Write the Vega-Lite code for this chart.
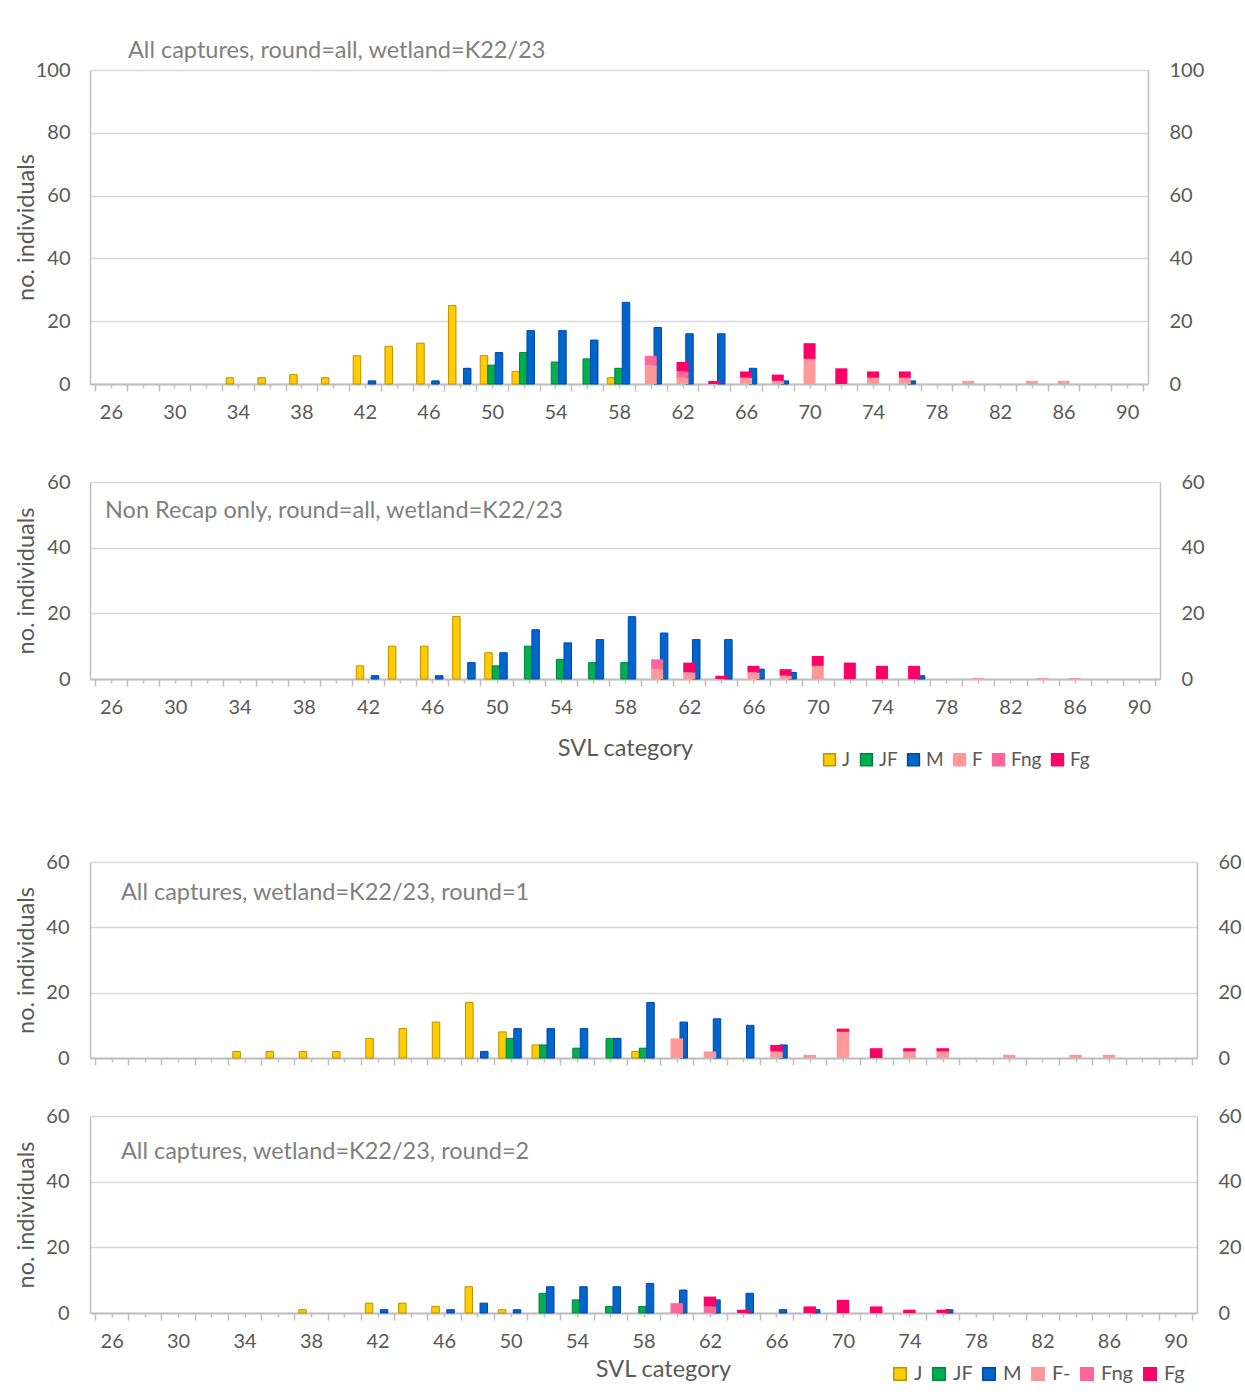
{
"$schema": "https://vega.github.io/schema/vega-lite/v6.json",
"padding": {"left": 13, "top": 38, "right": 0, "bottom": 0},
"background": "white",
"config": {
  "font": "Lato",
  "view": {"stroke": null},
  "axis": {"labelFont": "Lato", "titleFont": "Lato", "labelColor": "#595959", "titleColor": "#595959", "labelFontSize": 20, "titleFontSize": 23.5, "titleFontWeight": "normal"},
  "title": {"font": "Lato", "fontSize": 23.5, "fontWeight": "normal", "color": "#7F7F7F"},
  "legend": {"labelFont": "Lato", "labelFontSize": 19, "labelColor": "#595959"}
},
"datasets": {
  "p1": [
    {"svl": 34, "s": "J", "n": 2}, {"svl": 36, "s": "J", "n": 2}, {"svl": 38, "s": "J", "n": 3}, {"svl": 40, "s": "J", "n": 2},
    {"svl": 42, "s": "J", "n": 9}, {"svl": 44, "s": "J", "n": 12}, {"svl": 46, "s": "J", "n": 13}, {"svl": 48, "s": "J", "n": 25},
    {"svl": 50, "s": "J", "n": 9}, {"svl": 52, "s": "J", "n": 4}, {"svl": 58, "s": "J", "n": 2},
    {"svl": 50, "s": "JF", "n": 6}, {"svl": 52, "s": "JF", "n": 10}, {"svl": 54, "s": "JF", "n": 7}, {"svl": 56, "s": "JF", "n": 8}, {"svl": 58, "s": "JF", "n": 5},
    {"svl": 42, "s": "M", "n": 1}, {"svl": 46, "s": "M", "n": 1}, {"svl": 48, "s": "M", "n": 5}, {"svl": 50, "s": "M", "n": 10},
    {"svl": 52, "s": "M", "n": 17}, {"svl": 54, "s": "M", "n": 17}, {"svl": 56, "s": "M", "n": 14}, {"svl": 58, "s": "M", "n": 26},
    {"svl": 60, "s": "M", "n": 18}, {"svl": 62, "s": "M", "n": 16}, {"svl": 64, "s": "M", "n": 16}, {"svl": 66, "s": "M", "n": 5},
    {"svl": 68, "s": "M", "n": 1}, {"svl": 76, "s": "M", "n": 1},
    {"svl": 60, "s": "F", "n": 6}, {"svl": 62, "s": "F", "n": 2}, {"svl": 66, "s": "F", "n": 2}, {"svl": 68, "s": "F", "n": 1},
    {"svl": 70, "s": "F", "n": 8}, {"svl": 74, "s": "F", "n": 2}, {"svl": 76, "s": "F", "n": 2}, {"svl": 80, "s": "F", "n": 1},
    {"svl": 84, "s": "F", "n": 1}, {"svl": 86, "s": "F", "n": 1},
    {"svl": 60, "s": "Fng", "n": 3}, {"svl": 62, "s": "Fng", "n": 2},
    {"svl": 62, "s": "Fg", "n": 3}, {"svl": 64, "s": "Fg", "n": 1}, {"svl": 66, "s": "Fg", "n": 2}, {"svl": 68, "s": "Fg", "n": 2},
    {"svl": 70, "s": "Fg", "n": 5}, {"svl": 72, "s": "Fg", "n": 5}, {"svl": 74, "s": "Fg", "n": 2}, {"svl": 76, "s": "Fg", "n": 2}
  ],
  "p2": [
    {"svl": 42, "s": "J", "n": 4}, {"svl": 44, "s": "J", "n": 10}, {"svl": 46, "s": "J", "n": 10}, {"svl": 48, "s": "J", "n": 19}, {"svl": 50, "s": "J", "n": 8},
    {"svl": 50, "s": "JF", "n": 4}, {"svl": 52, "s": "JF", "n": 10}, {"svl": 54, "s": "JF", "n": 6}, {"svl": 56, "s": "JF", "n": 5}, {"svl": 58, "s": "JF", "n": 5},
    {"svl": 42, "s": "M", "n": 1}, {"svl": 46, "s": "M", "n": 1}, {"svl": 48, "s": "M", "n": 5}, {"svl": 50, "s": "M", "n": 8},
    {"svl": 52, "s": "M", "n": 15}, {"svl": 54, "s": "M", "n": 11}, {"svl": 56, "s": "M", "n": 12}, {"svl": 58, "s": "M", "n": 19},
    {"svl": 60, "s": "M", "n": 14}, {"svl": 62, "s": "M", "n": 12}, {"svl": 64, "s": "M", "n": 12}, {"svl": 66, "s": "M", "n": 3},
    {"svl": 68, "s": "M", "n": 2}, {"svl": 76, "s": "M", "n": 1},
    {"svl": 60, "s": "F", "n": 3}, {"svl": 62, "s": "F", "n": 2}, {"svl": 66, "s": "F", "n": 2}, {"svl": 68, "s": "F", "n": 1},
    {"svl": 70, "s": "F", "n": 4}, {"svl": 80, "s": "F", "n": 0.3}, {"svl": 84, "s": "F", "n": 0.3}, {"svl": 86, "s": "F", "n": 0.3},
    {"svl": 60, "s": "Fng", "n": 3},
    {"svl": 62, "s": "Fg", "n": 3}, {"svl": 64, "s": "Fg", "n": 1}, {"svl": 66, "s": "Fg", "n": 2}, {"svl": 68, "s": "Fg", "n": 2},
    {"svl": 70, "s": "Fg", "n": 3}, {"svl": 72, "s": "Fg", "n": 5}, {"svl": 74, "s": "Fg", "n": 4}, {"svl": 76, "s": "Fg", "n": 4}
  ],
  "p3": [
    {"svl": 34, "s": "J", "n": 2}, {"svl": 36, "s": "J", "n": 2}, {"svl": 38, "s": "J", "n": 2}, {"svl": 40, "s": "J", "n": 2},
    {"svl": 42, "s": "J", "n": 6}, {"svl": 44, "s": "J", "n": 9}, {"svl": 46, "s": "J", "n": 11}, {"svl": 48, "s": "J", "n": 17},
    {"svl": 50, "s": "J", "n": 8}, {"svl": 52, "s": "J", "n": 4}, {"svl": 58, "s": "J", "n": 2},
    {"svl": 50, "s": "JF", "n": 6}, {"svl": 52, "s": "JF", "n": 4}, {"svl": 54, "s": "JF", "n": 3}, {"svl": 56, "s": "JF", "n": 6}, {"svl": 58, "s": "JF", "n": 3},
    {"svl": 48, "s": "M", "n": 2}, {"svl": 50, "s": "M", "n": 9}, {"svl": 52, "s": "M", "n": 9}, {"svl": 54, "s": "M", "n": 9},
    {"svl": 56, "s": "M", "n": 6}, {"svl": 58, "s": "M", "n": 17}, {"svl": 60, "s": "M", "n": 11}, {"svl": 62, "s": "M", "n": 12},
    {"svl": 64, "s": "M", "n": 10}, {"svl": 66, "s": "M", "n": 4},
    {"svl": 60, "s": "F", "n": 6}, {"svl": 62, "s": "F", "n": 2}, {"svl": 66, "s": "F", "n": 2}, {"svl": 68, "s": "F", "n": 1},
    {"svl": 70, "s": "F", "n": 8}, {"svl": 74, "s": "F", "n": 2}, {"svl": 76, "s": "F", "n": 2}, {"svl": 80, "s": "F", "n": 1},
    {"svl": 84, "s": "F", "n": 1}, {"svl": 86, "s": "F", "n": 1},
    {"svl": 66, "s": "Fg", "n": 2}, {"svl": 70, "s": "Fg", "n": 1}, {"svl": 72, "s": "Fg", "n": 3}, {"svl": 74, "s": "Fg", "n": 1}, {"svl": 76, "s": "Fg", "n": 1}
  ],
  "p4": [
    {"svl": 38, "s": "J", "n": 1}, {"svl": 42, "s": "J", "n": 3}, {"svl": 44, "s": "J", "n": 3}, {"svl": 46, "s": "J", "n": 2}, {"svl": 48, "s": "J", "n": 8}, {"svl": 50, "s": "J", "n": 1},
    {"svl": 52, "s": "JF", "n": 6}, {"svl": 54, "s": "JF", "n": 4}, {"svl": 56, "s": "JF", "n": 2}, {"svl": 58, "s": "JF", "n": 2},
    {"svl": 42, "s": "M", "n": 1}, {"svl": 46, "s": "M", "n": 1}, {"svl": 48, "s": "M", "n": 3}, {"svl": 50, "s": "M", "n": 1},
    {"svl": 52, "s": "M", "n": 8}, {"svl": 54, "s": "M", "n": 8}, {"svl": 56, "s": "M", "n": 8}, {"svl": 58, "s": "M", "n": 9},
    {"svl": 60, "s": "M", "n": 7}, {"svl": 62, "s": "M", "n": 4}, {"svl": 64, "s": "M", "n": 6}, {"svl": 66, "s": "M", "n": 1},
    {"svl": 68, "s": "M", "n": 1}, {"svl": 76, "s": "M", "n": 1},
    {"svl": 60, "s": "Fng", "n": 3}, {"svl": 62, "s": "Fng", "n": 2},
    {"svl": 62, "s": "Fg", "n": 3}, {"svl": 64, "s": "Fg", "n": 1}, {"svl": 68, "s": "Fg", "n": 2}, {"svl": 70, "s": "Fg", "n": 4},
    {"svl": 72, "s": "Fg", "n": 2}, {"svl": 74, "s": "Fg", "n": 1}, {"svl": 76, "s": "Fg", "n": 1}
  ],
  "order": [{"s": "F", "k": 1}, {"s": "Fng", "k": 2}, {"s": "Fg", "k": 3}]
},
"spacing": 82,
"resolve": {"scale": {"x": "independent", "y": "independent", "color": "independent", "stroke": "independent"}},
"vconcat": [
 {
  "spacing": 50,
  "resolve": {"scale": {"x": "independent", "y": "independent", "color": "independent", "stroke": "independent"}},
  "vconcat": [
   {
    "width": 1058, "height": 314,
    "title": {"text": "All captures, round=all, wetland=K22/23", "anchor": "start", "frame": "group", "orient": "top", "offset": 0, "baseline": "middle", "dx": 38, "dy": 14},
    "data": {"name": "p1"},
    "encoding": {
      "color": {"field": "s", "type": "nominal", "scale": {"domain": ["J", "JF", "M", "F", "Fng", "Fg"], "range": ["#FFCC00", "#00B050", "#0066CC", "#FF9999", "#FF6699", "#FF0066"]}, "legend": null},
      "stroke": {"field": "s", "type": "nominal", "scale": {"domain": ["J", "JF", "M", "F", "Fng", "Fg"], "range": ["#BF9000", "#00843C", "#0047AB", "#FF9999", "#FF6699", "#FF0066"]}, "legend": null}
    },
    "resolve": {"axis": {"x": "independent", "y": "independent"}},
    "layer": [
     {
      "transform": [{"filter": "datum.s == 'J'"}],
      "mark": {"type": "bar", "width": 7.5, "xOffset": -8, "strokeWidth": 1},
      "encoding": {
        "x": {"field": "svl", "type": "quantitative", "scale": {"domain": [25, 91], "nice": false, "zero": false},
              "axis": {"orient": "bottom", "values": [26,28,30,32,34,36,38,40,42,44,46,48,50,52,54,56,58,60,62,64,66,68,70,72,74,76,78,80,82,84,86,88,90], "labelExpr": "datum.value % 4 == 2 ? datum.label : ''", "labelOverlap": false, "labelFlush": false, "labelBound": false, "tickSize": 4, "tickColor": "#BFBFBF", "tickWidth": 1.5, "domainColor": "#BFBFBF", "domainWidth": 2, "grid": false, "title": null, "labelPadding": 14}},
        "y": {"field": "n", "type": "quantitative", "scale": {"domain": [0, 100], "nice": false},
              "axis": {"orient": "left", "values": [0, 20, 40, 60, 80, 100], "grid": true, "gridColor": "#D9D9D9", "gridWidth": 1.5, "domainColor": "#BFBFBF", "domainWidth": 1.5, "ticks": false, "labelPadding": 20, "title": "no. individuals", "titleX": -52}}
      }
     },
     {
      "transform": [{"filter": "datum.s == 'JF'"}],
      "mark": {"type": "bar", "width": 7.5, "xOffset": -0.5, "strokeWidth": 1},
      "encoding": {
        "x": {"field": "svl", "type": "quantitative", "scale": {"domain": [25, 91], "nice": false, "zero": false},
              "axis": {"orient": "bottom", "values": [25,27,29,31,33,35,37,39,41,43,45,47,49,51,53,55,57,59,61,63,65,67,69,71,73,75,77,79,81,83,85,87,89,91], "labels": false, "tickSize": 7, "tickColor": "#BFBFBF", "tickWidth": 1.5, "domain": false, "grid": false, "title": null}},
        "y": {"field": "n", "type": "quantitative", "scale": {"domain": [0, 100], "nice": false},
              "axis": {"orient": "right", "values": [0, 20, 40, 60, 80, 100], "grid": false, "domainColor": "#BFBFBF", "domainWidth": 1.5, "ticks": false, "labelPadding": 21, "title": null}}
      }
     },
     {
      "transform": [{"filter": "datum.s == 'M'"}],
      "mark": {"type": "bar", "width": 7.5, "xOffset": 7, "strokeWidth": 1},
      "encoding": {
        "x": {"field": "svl", "type": "quantitative", "scale": {"domain": [25, 91], "nice": false, "zero": false}, "axis": null},
        "y": {"field": "n", "type": "quantitative", "scale": {"domain": [0, 100], "nice": false}, "axis": null}
      }
     },
     {
      "transform": [{"filter": {"field": "s", "oneOf": ["F", "Fng", "Fg"]}}, {"lookup": "s", "from": {"data": {"name": "order"}, "key": "s", "fields": ["k"]}}],
      "mark": {"type": "bar", "width": 12, "strokeWidth": 0},
      "encoding": {
        "x": {"field": "svl", "type": "quantitative", "scale": {"domain": [25, 91], "nice": false, "zero": false}, "axis": null},
        "y": {"field": "n", "type": "quantitative", "stack": "zero", "scale": {"domain": [0, 100], "nice": false}, "axis": null},
        "order": {"field": "k", "type": "quantitative", "sort": "ascending"}
      }
     }
    ]
   },
   {
    "width": 1070, "height": 197,
    "title": {"text": "Non Recap only, round=all, wetland=K22/23", "anchor": "start", "frame": "group", "orient": "top", "offset": 0, "baseline": "middle", "dx": 15, "dy": 62},
    "data": {"name": "p2"},
    "encoding": {
      "color": {"field": "s", "type": "nominal", "scale": {"domain": ["J", "JF", "M", "F", "Fng", "Fg"], "range": ["#FFCC00", "#00B050", "#0066CC", "#FF9999", "#FF6699", "#FF0066"]},
                "legend": {"orient": "none", "legendX": 730, "legendY": 268, "direction": "horizontal", "title": null, "symbolType": "square", "symbolSize": 140, "symbolStrokeWidth": 1.5, "labelOffset": 3, "columnPadding": 6, "padding": 0}},
      "stroke": {"field": "s", "type": "nominal", "scale": {"domain": ["J", "JF", "M", "F", "Fng", "Fg"], "range": ["#BF9000", "#00843C", "#0047AB", "#FF9999", "#FF6699", "#FF0066"]},
                "legend": {"orient": "none", "legendX": 730, "legendY": 268, "direction": "horizontal", "title": null, "symbolType": "square", "symbolSize": 140, "symbolStrokeWidth": 1.5, "labelOffset": 3, "columnPadding": 6, "padding": 0}}
    },
    "resolve": {"axis": {"x": "independent", "y": "independent"}},
    "layer": [
     {
      "transform": [{"filter": "datum.s == 'J'"}],
      "mark": {"type": "bar", "width": 7.5, "xOffset": -8, "strokeWidth": 1},
      "encoding": {
        "x": {"field": "svl", "type": "quantitative", "scale": {"domain": [25, 91], "nice": false, "zero": false},
              "axis": {"orient": "bottom", "values": [26,28,30,32,34,36,38,40,42,44,46,48,50,52,54,56,58,60,62,64,66,68,70,72,74,76,78,80,82,84,86,88,90], "labelExpr": "datum.value % 4 == 2 ? datum.label : ''", "labelOverlap": false, "labelFlush": false, "labelBound": false, "tickSize": 4, "tickColor": "#BFBFBF", "tickWidth": 1.5, "domainColor": "#BFBFBF", "domainWidth": 2, "grid": false, "title": "SVL category", "titlePadding": 19, "labelPadding": 14}},
        "y": {"field": "n", "type": "quantitative", "scale": {"domain": [0, 60], "nice": false},
              "axis": {"orient": "left", "values": [0, 20, 40, 60], "grid": true, "gridColor": "#D9D9D9", "gridWidth": 1.5, "domainColor": "#BFBFBF", "domainWidth": 1.5, "ticks": false, "labelPadding": 20, "title": "no. individuals", "titleX": -52}}
      }
     },
     {
      "transform": [{"filter": "datum.s == 'JF'"}],
      "mark": {"type": "bar", "width": 7.5, "xOffset": -0.5, "strokeWidth": 1},
      "encoding": {
        "x": {"field": "svl", "type": "quantitative", "scale": {"domain": [25, 91], "nice": false, "zero": false},
              "axis": {"orient": "bottom", "values": [25,27,29,31,33,35,37,39,41,43,45,47,49,51,53,55,57,59,61,63,65,67,69,71,73,75,77,79,81,83,85,87,89,91], "labels": false, "tickSize": 7, "tickColor": "#BFBFBF", "tickWidth": 1.5, "domain": false, "grid": false, "title": null}},
        "y": {"field": "n", "type": "quantitative", "scale": {"domain": [0, 60], "nice": false},
              "axis": {"orient": "right", "values": [0, 20, 40, 60], "grid": false, "domainColor": "#BFBFBF", "domainWidth": 1.5, "ticks": false, "labelPadding": 21, "title": null}}
      }
     },
     {
      "transform": [{"filter": "datum.s == 'M'"}],
      "mark": {"type": "bar", "width": 7.5, "xOffset": 7, "strokeWidth": 1},
      "encoding": {
        "x": {"field": "svl", "type": "quantitative", "scale": {"domain": [25, 91], "nice": false, "zero": false}, "axis": null},
        "y": {"field": "n", "type": "quantitative", "scale": {"domain": [0, 60], "nice": false}, "axis": null}
      }
     },
     {
      "transform": [{"filter": {"field": "s", "oneOf": ["F", "Fng", "Fg"]}}, {"lookup": "s", "from": {"data": {"name": "order"}, "key": "s", "fields": ["k"]}}],
      "mark": {"type": "bar", "width": 12, "strokeWidth": 0},
      "encoding": {
        "x": {"field": "svl", "type": "quantitative", "scale": {"domain": [25, 91], "nice": false, "zero": false}, "axis": null},
        "y": {"field": "n", "type": "quantitative", "stack": "zero", "scale": {"domain": [0, 60], "nice": false}, "axis": null},
        "order": {"field": "k", "type": "quantitative", "sort": "ascending"}
      }
     }
    ]
   }
  ]
 },
 {
  "spacing": 38,
  "resolve": {"scale": {"x": "independent", "y": "independent", "color": "independent", "stroke": "independent"}},
  "vconcat": [
   {
    "width": 1107, "height": 196,
    "title": {"text": "All captures, wetland=K22/23, round=1", "anchor": "start", "frame": "group", "orient": "top", "offset": 0, "baseline": "middle", "dx": 31, "dy": 64},
    "data": {"name": "p3"},
    "encoding": {
      "color": {"field": "s", "type": "nominal", "scale": {"domain": ["J", "JF", "M", "F", "Fng", "Fg"], "range": ["#FFCC00", "#00B050", "#0066CC", "#FF9999", "#FF6699", "#FF0066"]}, "legend": null},
      "stroke": {"field": "s", "type": "nominal", "scale": {"domain": ["J", "JF", "M", "F", "Fng", "Fg"], "range": ["#BF9000", "#00843C", "#0047AB", "#FF9999", "#FF6699", "#FF0066"]}, "legend": null}
    },
    "resolve": {"axis": {"x": "independent", "y": "independent"}},
    "layer": [
     {
      "transform": [{"filter": "datum.s == 'J'"}],
      "mark": {"type": "bar", "width": 7.5, "xOffset": -8, "strokeWidth": 1},
      "encoding": {
        "x": {"field": "svl", "type": "quantitative", "scale": {"domain": [25, 91], "nice": false, "zero": false},
              "axis": {"orient": "bottom", "values": [26,28,30,32,34,36,38,40,42,44,46,48,50,52,54,56,58,60,62,64,66,68,70,72,74,76,78,80,82,84,86,88,90], "labels": false, "tickSize": 4, "tickColor": "#BFBFBF", "tickWidth": 1.5, "domainColor": "#BFBFBF", "domainWidth": 2, "grid": false, "title": null}},
        "y": {"field": "n", "type": "quantitative", "scale": {"domain": [0, 60], "nice": false},
              "axis": {"orient": "left", "values": [0, 20, 40, 60], "grid": true, "gridColor": "#D9D9D9", "gridWidth": 1.5, "domainColor": "#BFBFBF", "domainWidth": 1.5, "ticks": false, "labelPadding": 21, "title": "no. individuals", "titleX": -52}}
      }
     },
     {
      "transform": [{"filter": "datum.s == 'JF'"}],
      "mark": {"type": "bar", "width": 7.5, "xOffset": -0.5, "strokeWidth": 1},
      "encoding": {
        "x": {"field": "svl", "type": "quantitative", "scale": {"domain": [25, 91], "nice": false, "zero": false},
              "axis": {"orient": "bottom", "values": [25,27,29,31,33,35,37,39,41,43,45,47,49,51,53,55,57,59,61,63,65,67,69,71,73,75,77,79,81,83,85,87,89,91], "labels": false, "tickSize": 7, "tickColor": "#BFBFBF", "tickWidth": 1.5, "domain": false, "grid": false, "title": null}},
        "y": {"field": "n", "type": "quantitative", "scale": {"domain": [0, 60], "nice": false},
              "axis": {"orient": "right", "values": [0, 20, 40, 60], "grid": false, "domainColor": "#BFBFBF", "domainWidth": 1.5, "ticks": false, "labelPadding": 21, "title": null}}
      }
     },
     {
      "transform": [{"filter": "datum.s == 'M'"}],
      "mark": {"type": "bar", "width": 7.5, "xOffset": 7, "strokeWidth": 1},
      "encoding": {
        "x": {"field": "svl", "type": "quantitative", "scale": {"domain": [25, 91], "nice": false, "zero": false}, "axis": null},
        "y": {"field": "n", "type": "quantitative", "scale": {"domain": [0, 60], "nice": false}, "axis": null}
      }
     },
     {
      "transform": [{"filter": {"field": "s", "oneOf": ["F", "Fng", "Fg"]}}, {"lookup": "s", "from": {"data": {"name": "order"}, "key": "s", "fields": ["k"]}}],
      "mark": {"type": "bar", "width": 12.5, "strokeWidth": 0},
      "encoding": {
        "x": {"field": "svl", "type": "quantitative", "scale": {"domain": [25, 91], "nice": false, "zero": false}, "axis": null},
        "y": {"field": "n", "type": "quantitative", "stack": "zero", "scale": {"domain": [0, 60], "nice": false}, "axis": null},
        "order": {"field": "k", "type": "quantitative", "sort": "ascending"}
      }
     }
    ]
   },
   {
    "width": 1107, "height": 197,
    "title": {"text": "All captures, wetland=K22/23, round=2", "anchor": "start", "frame": "group", "orient": "top", "offset": 0, "baseline": "middle", "dx": 31, "dy": 69},
    "data": {"name": "p4"},
    "encoding": {
      "color": {"field": "s", "type": "nominal", "scale": {"domain": ["J", "JF", "M", "F", "Fng", "Fg"], "range": ["#FFCC00", "#00B050", "#0066CC", "#FF9999", "#FF6699", "#FF0066"]},
                "legend": {"orient": "none", "legendX": 800, "legendY": 248, "direction": "horizontal", "title": null, "symbolType": "square", "symbolSize": 155, "symbolStrokeWidth": 1.5, "labelOffset": 4, "columnPadding": 6, "padding": 0, "labelFontSize": 20, "labelExpr": "datum.label == 'F' ? 'F-' : datum.label"}},
      "stroke": {"field": "s", "type": "nominal", "scale": {"domain": ["J", "JF", "M", "F", "Fng", "Fg"], "range": ["#BF9000", "#00843C", "#0047AB", "#FF9999", "#FF6699", "#FF0066"]},
                "legend": {"orient": "none", "legendX": 800, "legendY": 248, "direction": "horizontal", "title": null, "symbolType": "square", "symbolSize": 155, "symbolStrokeWidth": 1.5, "labelOffset": 4, "columnPadding": 6, "padding": 0, "labelFontSize": 20, "labelExpr": "datum.label == 'F' ? 'F-' : datum.label"}}
    },
    "resolve": {"axis": {"x": "independent", "y": "independent"}},
    "layer": [
     {
      "transform": [{"filter": "datum.s == 'J'"}],
      "mark": {"type": "bar", "width": 7.5, "xOffset": -8.5, "strokeWidth": 1},
      "encoding": {
        "x": {"field": "svl", "type": "quantitative", "scale": {"domain": [25, 91], "nice": false, "zero": false},
              "axis": {"orient": "bottom", "values": [26,28,30,32,34,36,38,40,42,44,46,48,50,52,54,56,58,60,62,64,66,68,70,72,74,76,78,80,82,84,86,88,90], "labelExpr": "datum.value % 4 == 2 ? datum.label : ''", "labelOverlap": false, "labelFlush": false, "labelBound": false, "tickSize": 4, "tickColor": "#BFBFBF", "tickWidth": 1.5, "domainColor": "#BFBFBF", "domainWidth": 2, "grid": false, "title": "SVL category", "titlePadding": 6, "titleX": 573, "labelPadding": 14}},
        "y": {"field": "n", "type": "quantitative", "scale": {"domain": [0, 60], "nice": false},
              "axis": {"orient": "left", "values": [0, 20, 40, 60], "grid": true, "gridColor": "#D9D9D9", "gridWidth": 1.5, "domainColor": "#BFBFBF", "domainWidth": 1.5, "ticks": false, "labelPadding": 21, "title": "no. individuals", "titleX": -52}}
      }
     },
     {
      "transform": [{"filter": "datum.s == 'JF'"}],
      "mark": {"type": "bar", "width": 7.5, "xOffset": -1, "strokeWidth": 1},
      "encoding": {
        "x": {"field": "svl", "type": "quantitative", "scale": {"domain": [25, 91], "nice": false, "zero": false},
              "axis": {"orient": "bottom", "values": [25,27,29,31,33,35,37,39,41,43,45,47,49,51,53,55,57,59,61,63,65,67,69,71,73,75,77,79,81,83,85,87,89,91], "labels": false, "tickSize": 7, "tickColor": "#BFBFBF", "tickWidth": 1.5, "domain": false, "grid": false, "title": null}},
        "y": {"field": "n", "type": "quantitative", "scale": {"domain": [0, 60], "nice": false},
              "axis": {"orient": "right", "values": [0, 20, 40, 60], "grid": false, "domainColor": "#BFBFBF", "domainWidth": 1.5, "ticks": false, "labelPadding": 21, "title": null}}
      }
     },
     {
      "transform": [{"filter": "datum.s == 'M'"}],
      "mark": {"type": "bar", "width": 7.5, "xOffset": 6.5, "strokeWidth": 1},
      "encoding": {
        "x": {"field": "svl", "type": "quantitative", "scale": {"domain": [25, 91], "nice": false, "zero": false}, "axis": null},
        "y": {"field": "n", "type": "quantitative", "scale": {"domain": [0, 60], "nice": false}, "axis": null}
      }
     },
     {
      "transform": [{"filter": {"field": "s", "oneOf": ["F", "Fng", "Fg"]}}, {"lookup": "s", "from": {"data": {"name": "order"}, "key": "s", "fields": ["k"]}}],
      "mark": {"type": "bar", "width": 12.5, "strokeWidth": 0},
      "encoding": {
        "x": {"field": "svl", "type": "quantitative", "scale": {"domain": [25, 91], "nice": false, "zero": false}, "axis": null},
        "y": {"field": "n", "type": "quantitative", "stack": "zero", "scale": {"domain": [0, 60], "nice": false}, "axis": null},
        "order": {"field": "k", "type": "quantitative", "sort": "ascending"}
      }
     }
    ]
   }
  ]
 }
]
}
